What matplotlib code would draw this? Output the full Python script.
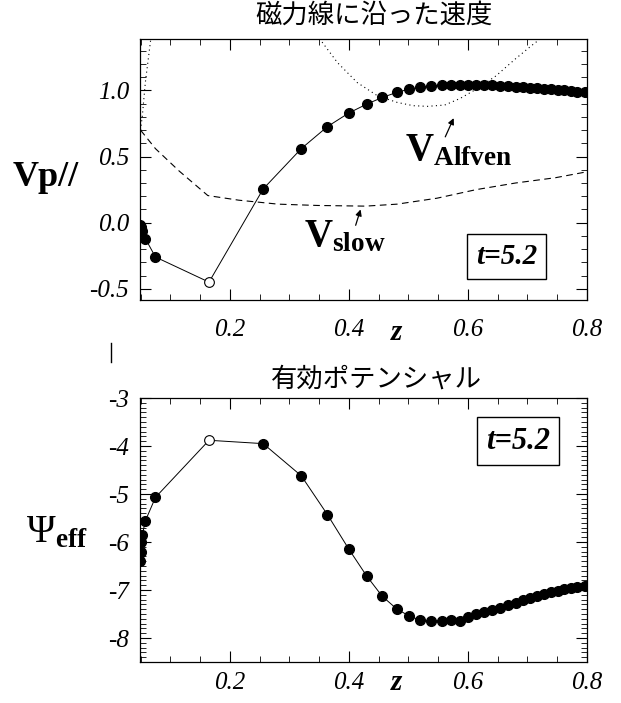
import numpy as np
import matplotlib
matplotlib.use("Agg")
import matplotlib.pyplot as plt
from matplotlib.ticker import MultipleLocator, FixedLocator
from matplotlib.lines import Line2D

plt.rcParams["font.family"] = ["Liberation Serif", "DejaVu Serif"]
plt.rcParams["mathtext.fontset"] = "custom"
plt.rcParams["mathtext.rm"] = "Liberation Serif"
plt.rcParams["mathtext.bf"] = "Liberation Serif:bold"
plt.rcParams["mathtext.it"] = "Liberation Serif:italic"

# z grid shared by both panels
Z = [0.049, 0.050, 0.051, 0.053, 0.058, 0.075, 0.165, 0.256, 0.320, 0.364,
     0.400, 0.430, 0.456, 0.480, 0.501, 0.520, 0.538, 0.556, 0.571, 0.586,
     0.600, 0.614, 0.627, 0.641, 0.654, 0.667, 0.680, 0.692, 0.704, 0.716,
     0.728, 0.740, 0.751, 0.762, 0.773, 0.784, 0.796]
OPEN_IDX = 6  # hollow marker

# parallel velocity
VP = [-0.02, -0.03, -0.045, -0.06, -0.12, -0.26, -0.45, 0.255, 0.56, 0.727,
      0.83, 0.897, 0.947, 0.985, 1.01, 1.025, 1.035, 1.04, 1.043, 1.045,
      1.045, 1.044, 1.042, 1.04, 1.037, 1.034, 1.03, 1.026, 1.022, 1.018,
      1.013, 1.009, 1.004, 1.0, 0.995, 0.99, 0.985]

# effective potential
PSI = [-6.4, -6.2, -6.0, -5.85, -5.56, -5.07, -3.88, -3.95, -4.62, -5.43,
       -6.15, -6.71, -7.13, -7.39, -7.54, -7.63, -7.65, -7.64, -7.63, -7.64,
       -7.56, -7.51, -7.46, -7.41, -7.37, -7.31, -7.26, -7.21, -7.17, -7.12,
       -7.08, -7.04, -7.01, -6.98, -6.95, -6.93, -6.91]

# Alfven speed (dotted), two visible branches
ALF_Z = [0.050, 0.053, 0.058, 0.063, 0.068, np.nan,
         0.346, 0.381, 0.414, 0.448, 0.481, 0.508, 0.532, 0.561, 0.587,
         0.614, 0.647, 0.680, 0.707, 0.730]
ALF_V = [0.70, 0.81, 1.06, 1.24, 1.42, np.nan,
         1.42, 1.21, 1.06, 0.96, 0.91, 0.885, 0.88, 0.89, 0.94,
         1.01, 1.11, 1.24, 1.34, 1.42]

# slow speed (dashed)
SLOW_Z = [0.050, 0.075, 0.115, 0.163, 0.215, 0.281, 0.348, 0.428, 0.481,
          0.548, 0.614, 0.680, 0.747, 0.800]
SLOW_V = [0.70, 0.56, 0.39, 0.205, 0.17, 0.14, 0.13, 0.125, 0.14,
          0.185, 0.25, 0.30, 0.34, 0.385]

TIME_LABEL = "t=5.2"
TITLE_TOP = "磁力線に沿った速度"
TITLE_BOT = "有効ポテンシャル"
CJK = ["Noto Sans CJK JP", "DejaVu Sans"]

fig = plt.figure(figsize=(6.21, 7.03), dpi=100)
ax1 = fig.add_axes([0.2254, 0.5733, 0.7198, 0.3713])
ax2 = fig.add_axes([0.2254, 0.0583, 0.7198, 0.3755])

z = np.array(Z)


def style(ax, pad):
    ax.set_xlim(0.049, 0.8)
    ax.xaxis.set_major_locator(FixedLocator([0.2, 0.4, 0.6, 0.8]))
    ax.xaxis.set_minor_locator(MultipleLocator(0.05))
    ax.tick_params(which="both", direction="in", top=True, right=True)
    ax.tick_params(which="major", length=8, width=0.8)
    ax.tick_params(which="minor", length=4, width=0.6)
    ax.tick_params(axis="x", pad=pad)
    ax.tick_params(axis="y", pad=8)
    for lab in ax.get_xticklabels() + ax.get_yticklabels():
        lab.set_fontstyle("italic")
        lab.set_fontsize(18)
    for s in ax.spines.values():
        s.set_linewidth(0.9)


def draw_series(ax, y):
    y = np.array(y)
    ax.plot(z, y, color="black", lw=0.7, zorder=2)
    mask = np.ones(len(z), bool)
    mask[OPEN_IDX] = False
    ax.plot(z[mask], y[mask], "o", color="black", ms=7, zorder=3)
    ax.plot(z[OPEN_IDX], y[OPEN_IDX], "o", mfc="white", mec="black",
            mew=0.8, ms=7, zorder=3)


# ---- top: velocity along field line ----
ax1.plot(ALF_Z, ALF_V, color="black", ls=(0, (1, 3)), lw=0.8)
ax1.plot(SLOW_Z, SLOW_V, color="black", ls=(0, (6, 4)), lw=0.8)
draw_series(ax1, VP)
ax1.set_ylim(-0.585, 1.39)
ax1.yaxis.set_major_locator(FixedLocator([-0.5, 0.0, 0.5, 1.0]))
ax1.yaxis.set_minor_locator(MultipleLocator(0.1))
ax1.yaxis.set_major_formatter(matplotlib.ticker.FormatStrFormatter("%.1f"))
style(ax1, 14)

ax1.text(-0.21, 0.47, "Vp//", transform=ax1.transAxes, fontsize=26,
         fontweight="bold", ha="center", va="center")
ax1.text(0.575, -0.155, "z", transform=ax1.transAxes, fontsize=21,
         fontweight="bold", fontstyle="italic", ha="center", va="baseline")
ax1.text(0.523, 1.04, TITLE_TOP, transform=ax1.transAxes, fontsize=19,
         family=CJK, ha="center", va="bottom")

ax1.text(0.494, 0.47, r"$\mathbf{V}_{\mathbf{Alfven}}$", fontsize=28,
         ha="left", va="baseline")
ax1.annotate("", xy=(0.578, 0.81), xytext=(0.560, 0.63),
             arrowprops=dict(arrowstyle="-|>", color="black", lw=0.9,
                             mutation_scale=9))
ax1.text(0.325, -0.18, r"$\mathbf{V}_{\mathbf{slow}}$", fontsize=28,
         ha="left", va="baseline")
ax1.annotate("", xy=(0.421, 0.12), xytext=(0.410, -0.04),
             arrowprops=dict(arrowstyle="-|>", color="black", lw=0.9,
                             mutation_scale=9))
ax1.text(0.82, 0.166, TIME_LABEL, transform=ax1.transAxes, fontsize=21,
         fontweight="bold", fontstyle="italic", ha="center", va="center",
         bbox=dict(boxstyle="square,pad=0.3", fc="white", ec="black", lw=1.0))

# ---- bottom: effective potential ----
draw_series(ax2, PSI)
ax2.set_ylim(-8.5, -3)
ax2.yaxis.set_major_locator(MultipleLocator(1))
ax2.yaxis.set_minor_locator(MultipleLocator(0.1))
ax2.yaxis.set_major_formatter(matplotlib.ticker.FormatStrFormatter("%d"))
style(ax2, 7)

ax2.text(-0.186, 0.49, r"$\Psi_{\mathbf{eff}}$", transform=ax2.transAxes,
         fontsize=28, ha="center", va="center")
ax2.text(0.575, -0.105, "z", transform=ax2.transAxes, fontsize=21,
         fontweight="bold", fontstyle="italic", ha="center", va="baseline")
ax2.text(0.53, 1.02, TITLE_BOT, transform=ax2.transAxes, fontsize=19,
         family=CJK, ha="center", va="bottom")
ax2.text(0.845, 0.837, TIME_LABEL, transform=ax2.transAxes, fontsize=22,
         fontweight="bold", fontstyle="italic", ha="center", va="center",
         bbox=dict(boxstyle="square,pad=0.3", fc="white", ec="black", lw=1.0))

# stray mark between panels
fig.add_artist(Line2D([111 / 621, 111 / 621], [1 - 343 / 703, 1 - 362 / 703],
                      color="black", lw=1.0))

fig.savefig("out.png", dpi=100)
